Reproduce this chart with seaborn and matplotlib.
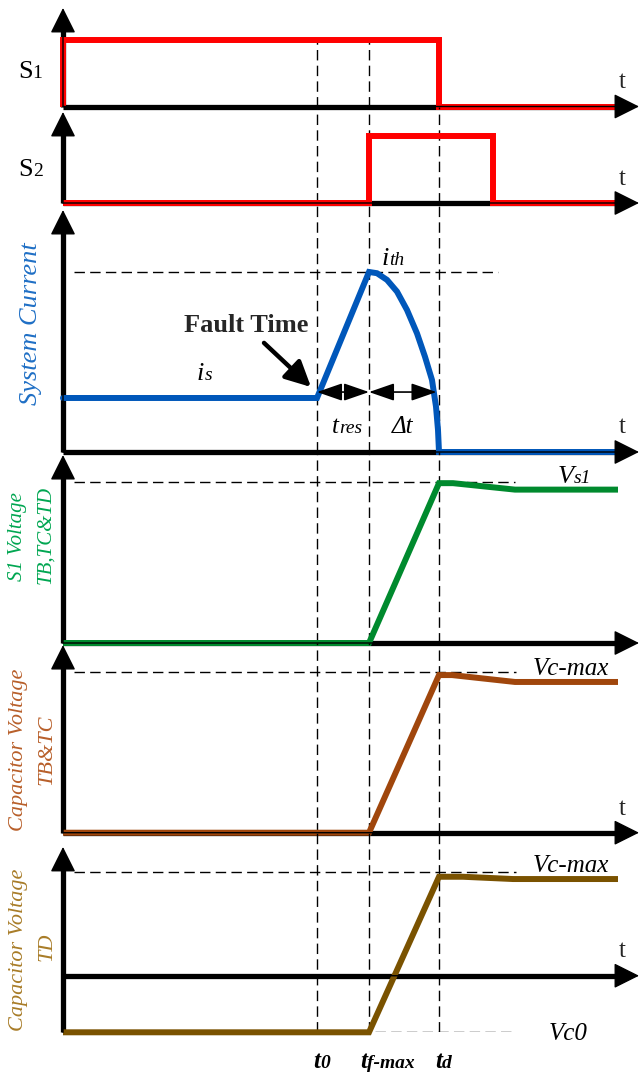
import numpy as np
import pandas as pd
import matplotlib.pyplot as plt
import seaborn as sns

sns.set_theme(style='white')
plt.rcParams['font.family'] = ['Liberation Serif', 'DejaVu Serif']

# --- event times (arbitrary time units) ---
t0 = 25.4
tf_max = 30.6
td = 37.6
s2_off = 43.0
t_end = 55.5
t_axis = 57.6

# --- waveforms ---
s1_t = [0, 0, td, td, t_end]
s1_v = [0, 1, 1, 0, 0]
s2_t = [0, tf_max, tf_max, s2_off, s2_off, t_end]
s2_v = [0, 0, 1, 1, 0, 0]
cur_t = [0, t0, tf_max, 31.4, 32.4, 33.4, 34.4, 35.4, 36.2, 36.9, 37.3, 37.5, td, t_end]
cur_v = [0.3, 0.3, 1.0, 0.993, 0.956, 0.891, 0.789, 0.659, 0.529, 0.40, 0.252, 0.122, 0, 0]
vs1_t = [0, tf_max, td, 39.0, 45.2, t_end]
vs1_v = [0, 0, 0.99, 0.99, 0.95, 0.95]
vc_t = [0, tf_max, td, 38.9, 45.2, t_end]
vc_v = [0, 0, 0.983, 0.983, 0.94, 0.94]
vctd_t = [0, tf_max, td, 40.0, 45.0, t_end]
vctd_v = [-0.547, -0.547, 0.957, 0.957, 0.935, 0.935]

# reference levels
i_th = 1.0
vs1_ref = 1.0
vc_max = 1.0
vc0 = -0.547

# --- layout (pixels) ---
W, H = 641, 1074
x_left, x_right = 63, 639
panels = [  # top px, bottom px, ymin, ymax, arrow tip
    (8, 106.5, 0, 1.481, 1.481),
    (106.5, 203, 0, 1.44, 1.358),
    (203, 452, 0, 1.383, 1.344),
    (452, 643, 0, 1.183, 1.164),
    (643, 832.7, 0, 1.183, 1.17),
    (832.7, 1032.3, -0.547, 1.383, 1.245),
]

fig = plt.figure(figsize=(W / 100, H / 100), dpi=100)
fig.patch.set_facecolor('white')
renderer = fig.canvas.get_renderer()

axes = []
for top, bot, ymin, ymax, tip in panels:
    ax = fig.add_axes([x_left / W, 1 - bot / H, (x_right - x_left) / W, (bot - top) / H])
    ax.set_xlim(0, t_axis)
    ax.set_ylim(ymin, ymax)
    ax.axis('off')
    axes.append(ax)

DASH = dict(color='black', lw=1.0, linestyle=(0, (7.5, 3.8)), zorder=1)


def arrow_axis(ax, start, tip, lw=3.8, head_px=19):
    # shaft as thick line, head as filled triangle
    p0 = ax.transData.transform(start)
    p1 = ax.transData.transform(tip)
    d = (p1 - p0) / np.hypot(*(p1 - p0))
    base = ax.transData.inverted().transform(p1 - d * head_px)
    ax.plot([start[0], base[0]], [start[1], base[1]], color='black', lw=lw,
            solid_capstyle='butt', zorder=2, clip_on=False)
    ax.annotate('', xy=tip, xytext=start, annotation_clip=False,
                arrowprops=dict(arrowstyle='-|>,head_length=1.0,head_width=0.5',
                                mutation_scale=16, lw=1, color='black',
                                shrinkA=0, shrinkB=0), zorder=5)


def label(ax, x, y, main, sub='', size=18, subsize=14, style='italic',
          weight='normal', color='black'):
    t = ax.text(x, y, main, fontsize=size, style=style, weight=weight,
                color=color, va='baseline', ha='left', clip_on=False)
    if sub:
        w = t.get_window_extent(renderer).width * 72 / fig.dpi
        ax.annotate(sub, xy=(x, y), xytext=(w, 0), textcoords='offset points',
                    fontsize=subsize, style=style, weight=weight, color=color,
                    va='baseline', ha='left', annotation_clip=False)
    return t


def trace(ax, tt, vv, color, lw=4.3, cap='butt'):
    sns.lineplot(x=tt, y=vv, ax=ax, sort=False, estimator=None, color=color,
                 lw=lw, legend=False, solid_capstyle=cap, solid_joinstyle='miter',
                 zorder=3, clip_on=False)


ax1, ax2, ax3, ax4, ax5, ax6 = axes

# axes with arrows
for ax, (top, bot, ymin, ymax, tip) in zip(axes, panels):
    arrow_axis(ax, (0, ymin), (0, tip))
    arrow_axis(ax, (0, 0), (t_axis, 0))

# dashed time markers
ax1.vlines([t0, tf_max], 0, 0.97, **DASH)
for ax, (top, bot, ymin, ymax, tip) in zip(axes[1:], panels[1:]):
    ax.vlines([t0, tf_max, td], ymin, ymax, **DASH)

# dashed reference levels
ax3.hlines(i_th, 1.1, 43.5, **DASH)
ax4.hlines(vs1_ref, 1.1, 45.2, **DASH)
ax5.hlines(vc_max, 1.1, 45.3, **DASH)
ax6.hlines(vc_max, 1.1, 45.3, **DASH)
ax6.hlines(vc0, 31.2, 45.1, **DASH)

# signals
trace(ax1, s1_t, s1_v, '#FF0000')
trace(ax2, s2_t, s2_v, '#FF0000')
trace(ax3, cur_t, cur_v, '#0057BA', cap='round')
trace(ax4, vs1_t, vs1_v, '#008A2E')
trace(ax5, vc_t, vc_v, '#A0460C')
trace(ax6, vctd_t, vctd_v, '#7A5200')

# 't' labels near arrow tips
for ax, yb in [(ax1, 0.28), (ax2, 0.27), (ax3, 0.106), (ax5, 0.11), (ax6, 0.18)]:
    ax.text(55.9, yb, 't', fontsize=18, ha='center', va='baseline')

# switch labels
label(ax1, -4.5, 0.43, 'S', '1', size=19, subsize=14, style='normal')
label(ax2, -4.5, 0.40, 'S', '2', size=19, subsize=14, style='normal')

# current panel annotations
label(ax3, 13.4, 0.40, 'i', 's', size=19)
label(ax3, 31.9, 1.039, 'i', 'th', size=19)
label(ax3, 26.9, 0.106, 't', 'res')
label(ax3, 32.9, 0.106, '\u0394t', '')
ax3.text(18.3, 0.70, 'Fault Time', fontsize=19, weight='bold', ha='center',
         va='center')
ax3.annotate('', xy=(24.8, 0.361), xytext=(20.1, 0.606), annotation_clip=False,
             arrowprops=dict(arrowstyle='-|>,head_length=1.1,head_width=0.55',
                             mutation_scale=14, lw=3.2, color='black',
                             shrinkA=0, shrinkB=0))
arr = dict(arrowstyle='<|-|>,head_length=1.3,head_width=0.45', mutation_scale=12,
           lw=1.2, color='black', shrinkA=0, shrinkB=0)
ax3.annotate('', xy=(tf_max, 0.333), xytext=(t0, 0.333), arrowprops=arr,
             annotation_clip=False)
ax3.annotate('', xy=(37.35, 0.333), xytext=(tf_max, 0.333), arrowprops=arr,
             annotation_clip=False)

# voltage level labels
label(ax4, 49.5, 0.99, 'V', 's1', size=19)
label(ax5, 47.0, 0.983, 'Vc-max', '')
label(ax6, 47.0, 1.006, 'Vc-max', '')
label(ax6, 48.6, -0.62, 'Vc0', '')

# time labels under the last panel
label(ax6, 25.0, -0.893, 't', '0', size=18, subsize=14, weight='bold')
label(ax6, 29.7, -0.893, 't', 'f-max', size=18, subsize=14, weight='bold')
label(ax6, 37.2, -0.893, 't', 'd', size=18, subsize=14, weight='bold')

# rotated panel titles
def side(x, y, s, color, size):
    fig.text(x / W, 1 - y / H, s, rotation=90, ha='center', va='center',
             fontsize=size, style='italic', color=color)

side(31, 324, 'System Current', '#1F6FC5', 19)
side(18, 537, 'S1 Voltage', '#00A651', 15)
side(46, 535, 'TB,TC&TD', '#00A651', 15)
side(19, 750, 'Capacitor Voltage', '#B85F2A', 16)
side(47, 750, 'TB&TC', '#B85F2A', 16)
side(19, 950, 'Capacitor Voltage', '#A87C28', 16)
side(47, 947, 'TD', '#A87C28', 16)

fig.savefig('out.png', dpi=100)
